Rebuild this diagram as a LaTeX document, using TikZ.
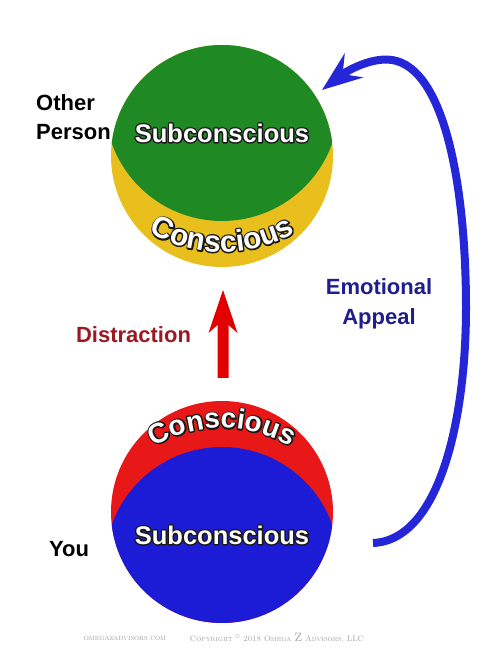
\documentclass[tikz,border=0pt]{standalone}
\usepackage{fontspec}
\newfontfamily\hv{Liberation Sans}
\usetikzlibrary{decorations.text,arrows.meta,calc}
\definecolor{ggreen}{HTML}{1F8A24}
\definecolor{gyellow}{HTML}{E8BF1C}
\definecolor{rred}{HTML}{E81818}
\definecolor{bblue}{HTML}{1C1CD6}
\definecolor{dred}{HTML}{9A1A22}
\definecolor{navy}{HTML}{1E1E8C}
\definecolor{foot}{HTML}{A0A0A0}
\definecolor{arrowblue}{HTML}{2626D9}
\definecolor{outl}{HTML}{1A1A1A}
\newcommand\cfonttop{\hv\bfseries\fontsize{30}{30}\selectfont}
\newcommand\cfontbot{\hv\bfseries\fontsize{28}{28}\selectfont}
\newcommand\strokeon{\special{pdf:literal direct 2 Tr 2.8 w 1 j 0.1 0.1 0.1 RG}}
\newcommand\strokeoff{\special{pdf:literal direct 0 Tr}}
\newcommand\outlinenode[4]{%
  \node[sublab,text=outl] at (#2,#3) {\strokeon #4\strokeoff};
  \node[sublab,text=white] (#1) at (#2,#3) {#4};}
\newcommand\arctext[7]{%
  \path[decorate,decoration={text along path,text align=center,text={|#7\color{outl}\strokeon|#6}}]
      (#1,#2) ++(#4:#3pt) arc[start angle=#4,end angle=#5,radius=#3pt];
  \node[inner sep=0pt] at (0,0) {\strokeoff};
  \path[decorate,decoration={text along path,text align=center,text={|#7\color{white}|#6}}]
      (#1,#2) ++(#4:#3pt) arc[start angle=#4,end angle=#5,radius=#3pt];}
\tikzset{
  sublab/.style={font=\hv\bfseries\fontsize{25.5}{28}\selectfont, inner sep=0pt},
  lab/.style={font=\hv\bfseries\fontsize{22}{29}\selectfont, inner sep=0pt},
  disc/.style={circle, minimum size=222pt, inner sep=0pt},
  footer/.style={text=foot, font=\fontsize{8}{9}\selectfont\scshape, inner sep=0pt}
}
\begin{document}
\begin{tikzpicture}[x=1pt,y=1pt]
\useasboundingbox (0,0) rectangle (490,668);
\fill[white] (0,0) rectangle (490,668);

% top disc
\node[disc, fill=gyellow] (other) at (222,512) {};
\begin{scope}
  \clip (other.center) circle[radius=111pt];
  \fill[ggreen] ($(other.center)+(0,52)$) circle[radius=117pt];
\end{scope}
\outlinenode{subtop}{222}{535}{Subconscious}
\arctext{222}{564}{148}{232}{308}{Conscious}{\cfonttop}

% bottom disc
\node[disc, fill=rred] (you) at (222,156) {};
\begin{scope}
  \clip (you.center) circle[radius=111pt];
  \fill[bblue] ($(you.center)+(0,-52)$) circle[radius=117pt];
\end{scope}
\outlinenode{subbot}{222}{133}{Subconscious}
\arctext{222}{104}{136}{125}{55}{Conscious}{\cfontbot}

% labels
\node[lab, align=left, anchor=west] (otherlab) at (36,551) {\strokeoff Other\\Person};
\node[lab] (youlab) at (69,119) {You};
\node[lab, text=dred] (distr) at (133.5,333) {Distraction};
\node[lab, text=navy, align=center, font=\hv\bfseries\fontsize{22}{30}\selectfont] (emo) at (379,364) {Emotional\\Appeal};

% red arrow
\coordinate (rbase) at (223,290);
\coordinate (rtip) at (223,378);
\shade[left color=red!92!black, middle color=red!70!white, right color=red!85!black]
  (rtip) -- ($(rtip)+(14.5,-43)$) -- ($(rtip)+(5.5,-35)$) -- ($(rbase)+(5.5,0)$)
  -- ($(rbase)+(-5.5,0)$) -- ($(rtip)+(-5.5,-35)$) -- ($(rtip)+(-14.5,-43)$) -- cycle;

% blue arrow
\coordinate (etail) at (373,125);
\coordinate (etip) at (322,578);
\draw[arrowblue, line width=8pt, -{Stealth[length=40pt,width=30pt,inset=14pt]}]
  (etail) .. controls (440,128) and (466,250) .. (466,360)
  .. controls (466,480) and (445,600) .. (392,608)
  .. controls (372,611) and (348,598) .. (etip);

% footer
\node[footer] (web) at (125,30) {omegazadvisors.com};
\node[footer] (copy) at (277,30) {Copyright \textsuperscript{\textcopyright} 2018 Omega {\large Z} Advisors, LLC};
\end{tikzpicture}
\end{document}
